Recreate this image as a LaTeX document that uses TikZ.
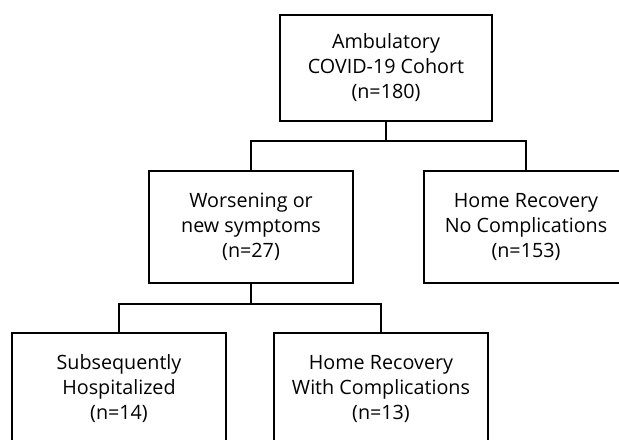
\documentclass[tikz,border=0pt]{standalone}
\usepackage{fontspec}
\setmainfont{Open Sans}
\usepackage{tikz}

\begin{document}
\begin{tikzpicture}[x=0.75pt,y=-0.75pt]
 	\tikzstyle{every node}+=[inner sep=0pt]
 	\tikzstyle{box}=[draw=black, line width=1.5pt, align=center, font=\fontsize{14.8pt}{18.75pt}\selectfont]
 	\tikzstyle{link}=[draw=black, line width=1pt]
 	\useasboundingbox (0,0) rectangle (619,440);
 	\clip (0,0) rectangle (619,440);
 	\node [box, minimum width=159pt, minimum height=79.5pt] (cohort) at (386,68) {Ambulatory\\COVID-19 Cohort\\(n=180)};
 	\node [box, minimum width=153pt, minimum height=83.8pt] (worse) at (251,227) {Worsening or\\new symptoms\\(n=27)};
 	\node [box, minimum width=153.75pt, minimum height=83.8pt] (homeno) at (526,227) {Home Recovery\\No Complications\\(n=153)};
 	\node [box, minimum width=160pt, minimum height=83.5pt] (hosp) at (119,389) {Subsequently\\Hospitalized\\(n=14)};
 	\node [box, minimum width=160.5pt, minimum height=83.5pt] (homewith) at (381,389) {Home Recovery\\With Complications\\(n=13)};
 	\draw [link] (cohort.south) -- ++(0,19) -| (worse.north);
 	\draw [link] (cohort.south) -- ++(0,19) -| (homeno.north);
 	\draw [link] (worse.south) -- ++(0,20) -| (hosp.north);
 	\draw [link] (worse.south) -- ++(0,20) -| (homewith.north);
\end{tikzpicture}
\end{document}
